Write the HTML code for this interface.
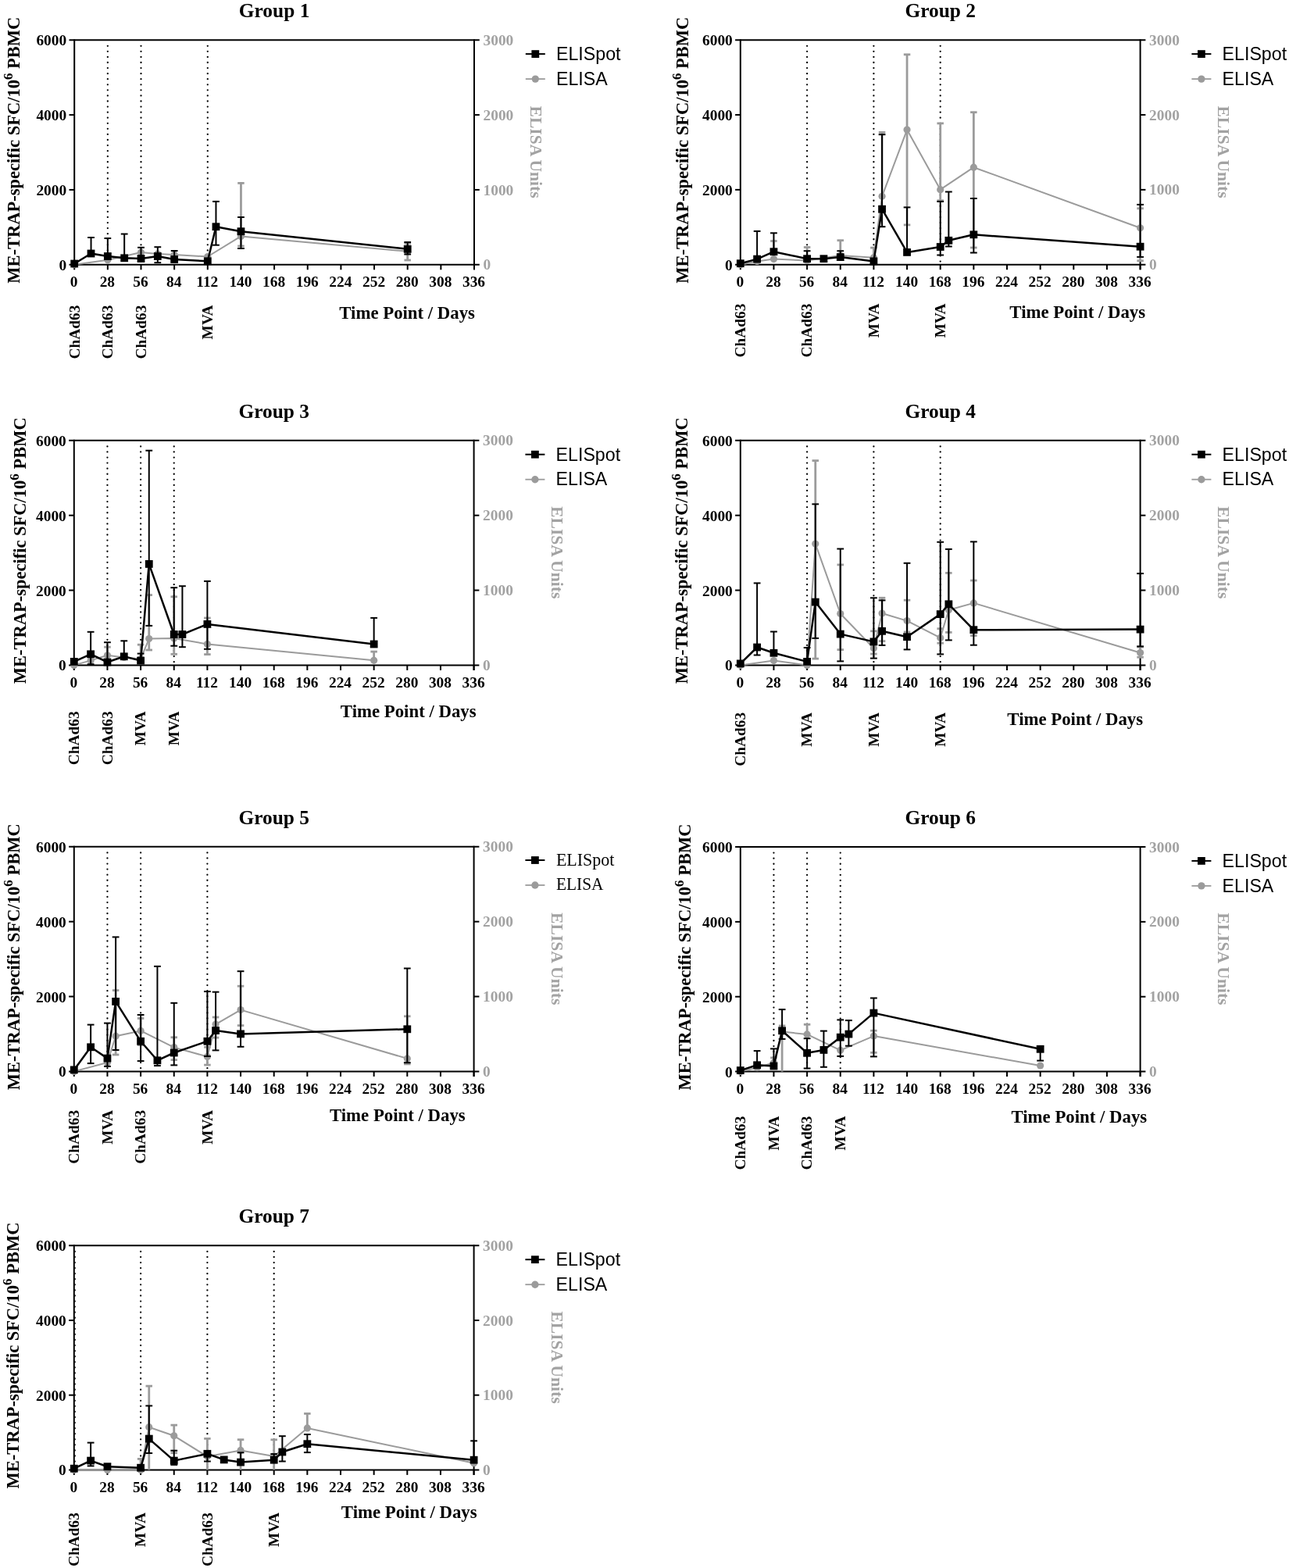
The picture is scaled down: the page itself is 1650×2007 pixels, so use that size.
<!DOCTYPE html>
<html><head><meta charset="utf-8"><title>ELISpot and ELISA responses by group</title>
<style>
html,body{margin:0;padding:0;background:#fff;}
svg{display:block;}
text{font-family:'Liberation Serif', 'Times New Roman', serif;}
.tt{font-weight:bold;font-size:25.4px;}
.tk{font-weight:bold;font-size:19.4px;}
.tkg{font-weight:bold;font-size:19.4px;fill:#a2a2a2;}
.yt{font-weight:bold;font-size:22.5px;}
.yt2{font-weight:bold;font-size:21.6px;fill:#a2a2a2;}
.xt{font-weight:bold;font-size:22.8px;}
.vac{font-weight:bold;font-size:19.4px;}
.lg{font-family:'Liberation Sans', Arial, sans-serif;font-size:23.2px;}
.lgs{font-size:22.4px;}
</style></head><body>
<svg width="1650" height="2007" viewBox="0 0 1650 2007">
<rect width="1650" height="2007" fill="#fff"/>
<g>
<line x1="137.85" y1="58.8" x2="137.85" y2="337.8" stroke="#000" stroke-width="2.3" stroke-linecap="round" stroke-dasharray="0 7.07"/>
<line x1="180.5" y1="58.8" x2="180.5" y2="337.8" stroke="#000" stroke-width="2.3" stroke-linecap="round" stroke-dasharray="0 7.07"/>
<line x1="265.8" y1="58.8" x2="265.8" y2="337.8" stroke="#000" stroke-width="2.3" stroke-linecap="round" stroke-dasharray="0 7.07"/>
<g stroke="#000" stroke-width="2" fill="none">
<path d="M88.5 51.2H613.8"/>
<path d="M88.5 338.8H613.8"/>
<path d="M95.2 50.2V339.8"/>
<path d="M607 50.2V345.3"/>
<path d="M88.5 242.93H95.2"/>
<path d="M607 242.93H613.8"/>
<path d="M88.5 147.07H95.2"/>
<path d="M607 147.07H613.8"/>
<path d="M95.2 338.8V345.3"/>
<path d="M137.85 338.8V345.3"/>
<path d="M180.5 338.8V345.3"/>
<path d="M223.15 338.8V345.3"/>
<path d="M265.8 338.8V345.3"/>
<path d="M308.45 338.8V345.3"/>
<path d="M351.1 338.8V345.3"/>
<path d="M393.75 338.8V345.3"/>
<path d="M436.4 338.8V345.3"/>
<path d="M479.05 338.8V345.3"/>
<path d="M521.7 338.8V345.3"/>
<path d="M564.35 338.8V345.3"/>
<path d="M607 338.8V345.3"/>
</g>
<g stroke="#9b9b9b" stroke-width="2.8" fill="none"><line x1="308.45" y1="302.4" x2="308.45" y2="234.4"/><line x1="304.2" y1="234.4" x2="312.7" y2="234.4"/><line x1="308.45" y1="302.4" x2="308.45" y2="315"/><line x1="304.2" y1="315" x2="312.7" y2="315"/><line x1="521.7" y1="321.8" x2="521.7" y2="311.8"/><line x1="517.45" y1="311.8" x2="525.95" y2="311.8"/><line x1="521.7" y1="321.8" x2="521.7" y2="333"/><line x1="517.45" y1="333" x2="525.95" y2="333"/></g>
<polyline fill="none" stroke="#9b9b9b" stroke-width="2.0" stroke-linejoin="round" points="95.2,338.8 137.85,332.8 180.5,323 201.82,325 223.15,326 265.8,328.5 308.45,302.4 521.7,321.8"/>
<g fill="#9b9b9b"><circle cx="95.2" cy="338.8" r="4.6"/><circle cx="137.85" cy="332.8" r="4.6"/><circle cx="180.5" cy="323" r="4.6"/><circle cx="201.82" cy="325" r="4.6"/><circle cx="223.15" cy="326" r="4.6"/><circle cx="265.8" cy="328.5" r="4.6"/><circle cx="308.45" cy="302.4" r="4.6"/><circle cx="521.7" cy="321.8" r="4.6"/></g>
<g stroke="#000" stroke-width="2.0" fill="none"><line x1="116.53" y1="324.5" x2="116.53" y2="304"/><line x1="112.12" y1="304" x2="120.93" y2="304"/><line x1="137.85" y1="328" x2="137.85" y2="305"/><line x1="133.45" y1="305" x2="142.25" y2="305"/><line x1="159.18" y1="330.3" x2="159.18" y2="299.5"/><line x1="154.78" y1="299.5" x2="163.58" y2="299.5"/><line x1="180.5" y1="331" x2="180.5" y2="316.8"/><line x1="176.1" y1="316.8" x2="184.9" y2="316.8"/><line x1="201.82" y1="328" x2="201.82" y2="316.2"/><line x1="197.42" y1="316.2" x2="206.22" y2="316.2"/><line x1="201.82" y1="328" x2="201.82" y2="336.2"/><line x1="197.42" y1="336.2" x2="206.22" y2="336.2"/><line x1="223.15" y1="332" x2="223.15" y2="321"/><line x1="218.75" y1="321" x2="227.55" y2="321"/><line x1="276.46" y1="290.2" x2="276.46" y2="257.9"/><line x1="272.06" y1="257.9" x2="280.86" y2="257.9"/><line x1="276.46" y1="290.2" x2="276.46" y2="313.7"/><line x1="272.06" y1="313.7" x2="280.86" y2="313.7"/><line x1="308.45" y1="296.2" x2="308.45" y2="278"/><line x1="304.05" y1="278" x2="312.85" y2="278"/><line x1="308.45" y1="296.2" x2="308.45" y2="318"/><line x1="304.05" y1="318" x2="312.85" y2="318"/><line x1="521.7" y1="318.8" x2="521.7" y2="310"/><line x1="517.3" y1="310" x2="526.1" y2="310"/><line x1="521.7" y1="318.8" x2="521.7" y2="325.5"/><line x1="517.3" y1="325.5" x2="526.1" y2="325.5"/></g>
<polyline fill="none" stroke="#000" stroke-width="2.5" stroke-linejoin="round" points="95.2,337.5 116.53,324.5 137.85,328 159.18,330.3 180.5,331 201.82,328 223.15,332 265.8,334.3 276.46,290.2 308.45,296.2 521.7,318.8"/>
<g fill="#000"><rect x="90.3" y="332.6" width="9.8" height="9.8"/><rect x="111.62" y="319.6" width="9.8" height="9.8"/><rect x="132.95" y="323.1" width="9.8" height="9.8"/><rect x="154.28" y="325.4" width="9.8" height="9.8"/><rect x="175.6" y="326.1" width="9.8" height="9.8"/><rect x="196.92" y="323.1" width="9.8" height="9.8"/><rect x="218.25" y="327.1" width="9.8" height="9.8"/><rect x="260.9" y="329.4" width="9.8" height="9.8"/><rect x="271.56" y="285.3" width="9.8" height="9.8"/><rect x="303.55" y="291.3" width="9.8" height="9.8"/><rect x="516.8" y="313.9" width="9.8" height="9.8"/></g>
<text x="351.1" y="21.5" text-anchor="middle" class="tt">Group 1</text>
<text x="85.2" y="345.8" text-anchor="end" class="tk">0</text>
<text x="85.2" y="249.93" text-anchor="end" class="tk">2000</text>
<text x="85.2" y="154.07" text-anchor="end" class="tk">4000</text>
<text x="85.2" y="58.2" text-anchor="end" class="tk">6000</text>
<text x="618.5" y="345.4" class="tkg">0</text>
<text x="618.5" y="249.53" class="tkg">1000</text>
<text x="618.5" y="153.67" class="tkg">2000</text>
<text x="618.5" y="57.8" class="tkg">3000</text>
<text x="94.7" y="367.2" text-anchor="middle" class="tk">0</text>
<text x="137.35" y="367.2" text-anchor="middle" class="tk">28</text>
<text x="180" y="367.2" text-anchor="middle" class="tk">56</text>
<text x="222.65" y="367.2" text-anchor="middle" class="tk">84</text>
<text x="265.3" y="367.2" text-anchor="middle" class="tk">112</text>
<text x="307.95" y="367.2" text-anchor="middle" class="tk">140</text>
<text x="350.6" y="367.2" text-anchor="middle" class="tk">168</text>
<text x="393.25" y="367.2" text-anchor="middle" class="tk">196</text>
<text x="435.9" y="367.2" text-anchor="middle" class="tk">224</text>
<text x="478.55" y="367.2" text-anchor="middle" class="tk">252</text>
<text x="521.2" y="367.2" text-anchor="middle" class="tk">280</text>
<text x="563.85" y="367.2" text-anchor="middle" class="tk">308</text>
<text x="606.5" y="367.2" text-anchor="middle" class="tk">336</text>
<text transform="translate(24.9 192.2) rotate(-90)" text-anchor="middle" class="yt">ME-TRAP-specific SFC/10<tspan dy="-9" font-size="17">6</tspan><tspan dy="9"> PBMC</tspan></text>
<text transform="translate(679 194.6) rotate(90)" text-anchor="middle" class="yt2">ELISA Units</text>
<text x="608" y="408" text-anchor="end" class="xt">Time Point / Days</text>
<text transform="translate(101.5 390.6) rotate(-90)" text-anchor="end" class="vac">ChAd63</text>
<text transform="translate(144.15 390.6) rotate(-90)" text-anchor="end" class="vac">ChAd63</text>
<text transform="translate(186.8 390.6) rotate(-90)" text-anchor="end" class="vac">ChAd63</text>
<text transform="translate(272.1 390.6) rotate(-90)" text-anchor="end" class="vac">MVA</text>
<path d="M672.8 69.1h25" stroke="#000" stroke-width="2"/>
<rect x="680.4" y="64.2" width="9.8" height="9.8"/>
<path d="M672.8 101.1h25" stroke="#9b9b9b" stroke-width="1.8"/>
<circle cx="685.3" cy="101.1" r="4.7" fill="#9b9b9b"/>
<text x="712" y="76.9" class="lg">ELISpot</text>
<text x="712" y="108.7" class="lg">ELISA</text>
</g>
<g>
<line x1="1033.1" y1="58.8" x2="1033.1" y2="337.7" stroke="#000" stroke-width="2.3" stroke-linecap="round" stroke-dasharray="0 7.07"/>
<line x1="1118.4" y1="58.8" x2="1118.4" y2="337.7" stroke="#000" stroke-width="2.3" stroke-linecap="round" stroke-dasharray="0 7.07"/>
<line x1="1203.7" y1="58.8" x2="1203.7" y2="337.7" stroke="#000" stroke-width="2.3" stroke-linecap="round" stroke-dasharray="0 7.07"/>
<g stroke="#000" stroke-width="2" fill="none">
<path d="M941.1 51.2H1466.4"/>
<path d="M941.1 338.7H1466.4"/>
<path d="M947.8 50.2V339.7"/>
<path d="M1459.6 50.2V345.2"/>
<path d="M941.1 242.87H947.8"/>
<path d="M1459.6 242.87H1466.4"/>
<path d="M941.1 147.03H947.8"/>
<path d="M1459.6 147.03H1466.4"/>
<path d="M947.8 338.7V345.2"/>
<path d="M990.45 338.7V345.2"/>
<path d="M1033.1 338.7V345.2"/>
<path d="M1075.75 338.7V345.2"/>
<path d="M1118.4 338.7V345.2"/>
<path d="M1161.05 338.7V345.2"/>
<path d="M1203.7 338.7V345.2"/>
<path d="M1246.35 338.7V345.2"/>
<path d="M1289 338.7V345.2"/>
<path d="M1331.65 338.7V345.2"/>
<path d="M1374.3 338.7V345.2"/>
<path d="M1416.95 338.7V345.2"/>
<path d="M1459.6 338.7V345.2"/>
</g>
<g stroke="#9b9b9b" stroke-width="2.8" fill="none"><line x1="990.45" y1="331.6" x2="990.45" y2="308.5"/><line x1="986.2" y1="308.5" x2="994.7" y2="308.5"/><line x1="1033.1" y1="333.4" x2="1033.1" y2="316.5"/><line x1="1028.85" y1="316.5" x2="1037.35" y2="316.5"/><line x1="1075.75" y1="326.9" x2="1075.75" y2="307.7"/><line x1="1071.5" y1="307.7" x2="1080" y2="307.7"/><line x1="1118.4" y1="329.7" x2="1118.4" y2="317.1"/><line x1="1114.15" y1="317.1" x2="1122.65" y2="317.1"/><line x1="1129.06" y1="251.3" x2="1129.06" y2="169.4"/><line x1="1124.81" y1="169.4" x2="1133.31" y2="169.4"/><line x1="1161.05" y1="166.1" x2="1161.05" y2="69.8"/><line x1="1156.8" y1="69.8" x2="1165.3" y2="69.8"/><line x1="1161.05" y1="166.1" x2="1161.05" y2="287.9"/><line x1="1156.8" y1="287.9" x2="1165.3" y2="287.9"/><line x1="1203.7" y1="242.7" x2="1203.7" y2="157.9"/><line x1="1199.45" y1="157.9" x2="1207.95" y2="157.9"/><line x1="1203.7" y1="242.7" x2="1203.7" y2="256.7"/><line x1="1199.45" y1="256.7" x2="1207.95" y2="256.7"/><line x1="1246.35" y1="214.2" x2="1246.35" y2="143.7"/><line x1="1242.1" y1="143.7" x2="1250.6" y2="143.7"/><line x1="1246.35" y1="214.2" x2="1246.35" y2="317"/><line x1="1242.1" y1="317" x2="1250.6" y2="317"/><line x1="1459.6" y1="291.8" x2="1459.6" y2="266.8"/><line x1="1455.35" y1="266.8" x2="1463.85" y2="266.8"/><line x1="1459.6" y1="291.8" x2="1459.6" y2="333.8"/><line x1="1455.35" y1="333.8" x2="1463.85" y2="333.8"/></g>
<polyline fill="none" stroke="#9b9b9b" stroke-width="2.0" stroke-linejoin="round" points="947.8,338.7 969.12,334.4 990.45,331.6 1033.1,333.4 1075.75,326.9 1118.4,329.7 1129.06,251.3 1161.05,166.1 1203.7,242.7 1246.35,214.2 1459.6,291.8"/>
<g fill="#9b9b9b"><circle cx="947.8" cy="338.7" r="4.6"/><circle cx="969.12" cy="334.4" r="4.6"/><circle cx="990.45" cy="331.6" r="4.6"/><circle cx="1033.1" cy="333.4" r="4.6"/><circle cx="1075.75" cy="326.9" r="4.6"/><circle cx="1118.4" cy="329.7" r="4.6"/><circle cx="1129.06" cy="251.3" r="4.6"/><circle cx="1161.05" cy="166.1" r="4.6"/><circle cx="1203.7" cy="242.7" r="4.6"/><circle cx="1246.35" cy="214.2" r="4.6"/><circle cx="1459.6" cy="291.8" r="4.6"/></g>
<g stroke="#000" stroke-width="2.0" fill="none"><line x1="969.12" y1="331.6" x2="969.12" y2="295.9"/><line x1="964.73" y1="295.9" x2="973.52" y2="295.9"/><line x1="990.45" y1="322.2" x2="990.45" y2="298.3"/><line x1="986.05" y1="298.3" x2="994.85" y2="298.3"/><line x1="1033.1" y1="331.2" x2="1033.1" y2="321.2"/><line x1="1028.7" y1="321.2" x2="1037.5" y2="321.2"/><line x1="1075.75" y1="329.1" x2="1075.75" y2="321.2"/><line x1="1071.35" y1="321.2" x2="1080.15" y2="321.2"/><line x1="1129.06" y1="267.7" x2="1129.06" y2="172.2"/><line x1="1124.66" y1="172.2" x2="1133.46" y2="172.2"/><line x1="1129.06" y1="267.7" x2="1129.06" y2="290.2"/><line x1="1124.66" y1="290.2" x2="1133.46" y2="290.2"/><line x1="1161.05" y1="322.9" x2="1161.05" y2="265.4"/><line x1="1156.65" y1="265.4" x2="1165.45" y2="265.4"/><line x1="1203.7" y1="316" x2="1203.7" y2="257.9"/><line x1="1199.3" y1="257.9" x2="1208.1" y2="257.9"/><line x1="1203.7" y1="316" x2="1203.7" y2="326.5"/><line x1="1199.3" y1="326.5" x2="1208.1" y2="326.5"/><line x1="1214.36" y1="307.8" x2="1214.36" y2="245.5"/><line x1="1209.96" y1="245.5" x2="1218.76" y2="245.5"/><line x1="1214.36" y1="307.8" x2="1214.36" y2="315.5"/><line x1="1209.96" y1="315.5" x2="1218.76" y2="315.5"/><line x1="1246.35" y1="300.3" x2="1246.35" y2="254"/><line x1="1241.95" y1="254" x2="1250.75" y2="254"/><line x1="1246.35" y1="300.3" x2="1246.35" y2="323.5"/><line x1="1241.95" y1="323.5" x2="1250.75" y2="323.5"/><line x1="1459.6" y1="315.7" x2="1459.6" y2="261.9"/><line x1="1455.2" y1="261.9" x2="1464" y2="261.9"/><line x1="1459.6" y1="315.7" x2="1459.6" y2="328.9"/><line x1="1455.2" y1="328.9" x2="1464" y2="328.9"/></g>
<polyline fill="none" stroke="#000" stroke-width="2.5" stroke-linejoin="round" points="947.8,337.2 969.12,331.6 990.45,322.2 1033.1,331.2 1054.42,331.2 1075.75,329.1 1118.4,334.4 1129.06,267.7 1161.05,322.9 1203.7,316 1214.36,307.8 1246.35,300.3 1459.6,315.7"/>
<g fill="#000"><rect x="942.9" y="332.3" width="9.8" height="9.8"/><rect x="964.23" y="326.7" width="9.8" height="9.8"/><rect x="985.55" y="317.3" width="9.8" height="9.8"/><rect x="1028.2" y="326.3" width="9.8" height="9.8"/><rect x="1049.52" y="326.3" width="9.8" height="9.8"/><rect x="1070.85" y="324.2" width="9.8" height="9.8"/><rect x="1113.5" y="329.5" width="9.8" height="9.8"/><rect x="1124.16" y="262.8" width="9.8" height="9.8"/><rect x="1156.15" y="318" width="9.8" height="9.8"/><rect x="1198.8" y="311.1" width="9.8" height="9.8"/><rect x="1209.46" y="302.9" width="9.8" height="9.8"/><rect x="1241.45" y="295.4" width="9.8" height="9.8"/><rect x="1454.7" y="310.8" width="9.8" height="9.8"/></g>
<text x="1203.7" y="22.1" text-anchor="middle" class="tt">Group 2</text>
<text x="937.8" y="345.7" text-anchor="end" class="tk">0</text>
<text x="937.8" y="249.87" text-anchor="end" class="tk">2000</text>
<text x="937.8" y="154.03" text-anchor="end" class="tk">4000</text>
<text x="937.8" y="58.2" text-anchor="end" class="tk">6000</text>
<text x="1471.1" y="345.3" class="tkg">0</text>
<text x="1471.1" y="249.47" class="tkg">1000</text>
<text x="1471.1" y="153.63" class="tkg">2000</text>
<text x="1471.1" y="57.8" class="tkg">3000</text>
<text x="947.3" y="367.1" text-anchor="middle" class="tk">0</text>
<text x="989.95" y="367.1" text-anchor="middle" class="tk">28</text>
<text x="1032.6" y="367.1" text-anchor="middle" class="tk">56</text>
<text x="1075.25" y="367.1" text-anchor="middle" class="tk">84</text>
<text x="1117.9" y="367.1" text-anchor="middle" class="tk">112</text>
<text x="1160.55" y="367.1" text-anchor="middle" class="tk">140</text>
<text x="1203.2" y="367.1" text-anchor="middle" class="tk">168</text>
<text x="1245.85" y="367.1" text-anchor="middle" class="tk">196</text>
<text x="1288.5" y="367.1" text-anchor="middle" class="tk">224</text>
<text x="1331.15" y="367.1" text-anchor="middle" class="tk">252</text>
<text x="1373.8" y="367.1" text-anchor="middle" class="tk">280</text>
<text x="1416.45" y="367.1" text-anchor="middle" class="tk">308</text>
<text x="1459.1" y="367.1" text-anchor="middle" class="tk">336</text>
<text transform="translate(881.4 192.15) rotate(-90)" text-anchor="middle" class="yt">ME-TRAP-specific SFC/10<tspan dy="-9" font-size="17">6</tspan><tspan dy="9"> PBMC</tspan></text>
<text transform="translate(1558.6 194.55) rotate(90)" text-anchor="middle" class="yt2">ELISA Units</text>
<text x="1466.1" y="406.8" text-anchor="end" class="xt">Time Point / Days</text>
<text transform="translate(954.1 388.5) rotate(-90)" text-anchor="end" class="vac">ChAd63</text>
<text transform="translate(1039.4 388.5) rotate(-90)" text-anchor="end" class="vac">ChAd63</text>
<text transform="translate(1124.7 388.5) rotate(-90)" text-anchor="end" class="vac">MVA</text>
<text transform="translate(1210 388.5) rotate(-90)" text-anchor="end" class="vac">MVA</text>
<path d="M1525.4 69.1h25" stroke="#000" stroke-width="2"/>
<rect x="1533" y="64.2" width="9.8" height="9.8"/>
<path d="M1525.4 101.1h25" stroke="#9b9b9b" stroke-width="1.8"/>
<circle cx="1537.9" cy="101.1" r="4.7" fill="#9b9b9b"/>
<text x="1564.6" y="76.9" class="lg">ELISpot</text>
<text x="1564.6" y="108.7" class="lg">ELISA</text>
</g>
<g>
<line x1="137.45" y1="571.4" x2="137.45" y2="850.4" stroke="#000" stroke-width="2.3" stroke-linecap="round" stroke-dasharray="0 7.07"/>
<line x1="180.1" y1="571.4" x2="180.1" y2="850.4" stroke="#000" stroke-width="2.3" stroke-linecap="round" stroke-dasharray="0 7.07"/>
<line x1="222.75" y1="571.4" x2="222.75" y2="850.4" stroke="#000" stroke-width="2.3" stroke-linecap="round" stroke-dasharray="0 7.07"/>
<g stroke="#000" stroke-width="2" fill="none">
<path d="M88.1 563.8H613.4"/>
<path d="M88.1 851.4H613.4"/>
<path d="M94.8 562.8V852.4"/>
<path d="M606.6 562.8V857.9"/>
<path d="M88.1 755.53H94.8"/>
<path d="M606.6 755.53H613.4"/>
<path d="M88.1 659.67H94.8"/>
<path d="M606.6 659.67H613.4"/>
<path d="M94.8 851.4V857.9"/>
<path d="M137.45 851.4V857.9"/>
<path d="M180.1 851.4V857.9"/>
<path d="M222.75 851.4V857.9"/>
<path d="M265.4 851.4V857.9"/>
<path d="M308.05 851.4V857.9"/>
<path d="M350.7 851.4V857.9"/>
<path d="M393.35 851.4V857.9"/>
<path d="M436 851.4V857.9"/>
<path d="M478.65 851.4V857.9"/>
<path d="M521.3 851.4V857.9"/>
<path d="M563.95 851.4V857.9"/>
<path d="M606.6 851.4V857.9"/>
</g>
<g stroke="#9b9b9b" stroke-width="2.8" fill="none"><line x1="137.45" y1="838.8" x2="137.45" y2="828.2"/><line x1="133.2" y1="828.2" x2="141.7" y2="828.2"/><line x1="180.1" y1="843.4" x2="180.1" y2="825.2"/><line x1="175.85" y1="825.2" x2="184.35" y2="825.2"/><line x1="190.76" y1="817.6" x2="190.76" y2="761.6"/><line x1="186.51" y1="761.6" x2="195.01" y2="761.6"/><line x1="190.76" y1="817.6" x2="190.76" y2="832"/><line x1="186.51" y1="832" x2="195.01" y2="832"/><line x1="222.75" y1="816.9" x2="222.75" y2="763.8"/><line x1="218.5" y1="763.8" x2="227" y2="763.8"/><line x1="222.75" y1="816.9" x2="222.75" y2="837.3"/><line x1="218.5" y1="837.3" x2="227" y2="837.3"/><line x1="265.4" y1="824.4" x2="265.4" y2="791"/><line x1="261.15" y1="791" x2="269.65" y2="791"/><line x1="265.4" y1="824.4" x2="265.4" y2="837.6"/><line x1="261.15" y1="837.6" x2="269.65" y2="837.6"/><line x1="478.65" y1="845.3" x2="478.65" y2="834.1"/><line x1="474.4" y1="834.1" x2="482.9" y2="834.1"/></g>
<polyline fill="none" stroke="#9b9b9b" stroke-width="2.0" stroke-linejoin="round" points="94.8,851.4 116.12,845.4 137.45,838.8 158.77,841.4 180.1,843.4 190.76,817.6 222.75,816.9 265.4,824.4 478.65,845.3"/>
<g fill="#9b9b9b"><circle cx="94.8" cy="851.4" r="4.6"/><circle cx="116.12" cy="845.4" r="4.6"/><circle cx="137.45" cy="838.8" r="4.6"/><circle cx="158.77" cy="841.4" r="4.6"/><circle cx="180.1" cy="843.4" r="4.6"/><circle cx="190.76" cy="817.6" r="4.6"/><circle cx="222.75" cy="816.9" r="4.6"/><circle cx="265.4" cy="824.4" r="4.6"/><circle cx="478.65" cy="845.3" r="4.6"/></g>
<g stroke="#000" stroke-width="2.0" fill="none"><line x1="116.12" y1="837.3" x2="116.12" y2="808.8"/><line x1="111.72" y1="808.8" x2="120.53" y2="808.8"/><line x1="116.12" y1="837.3" x2="116.12" y2="850.2"/><line x1="111.72" y1="850.2" x2="120.53" y2="850.2"/><line x1="137.45" y1="847.5" x2="137.45" y2="822.2"/><line x1="133.05" y1="822.2" x2="141.85" y2="822.2"/><line x1="158.77" y1="840.3" x2="158.77" y2="820.3"/><line x1="154.37" y1="820.3" x2="163.17" y2="820.3"/><line x1="180.1" y1="845.6" x2="180.1" y2="836.6"/><line x1="175.7" y1="836.6" x2="184.5" y2="836.6"/><line x1="190.76" y1="721.9" x2="190.76" y2="576.7"/><line x1="186.36" y1="576.7" x2="195.16" y2="576.7"/><line x1="190.76" y1="721.9" x2="190.76" y2="800.9"/><line x1="186.36" y1="800.9" x2="195.16" y2="800.9"/><line x1="222.75" y1="812" x2="222.75" y2="752.2"/><line x1="218.35" y1="752.2" x2="227.15" y2="752.2"/><line x1="222.75" y1="812" x2="222.75" y2="826.7"/><line x1="218.35" y1="826.7" x2="227.15" y2="826.7"/><line x1="233.41" y1="812" x2="233.41" y2="750.2"/><line x1="229.01" y1="750.2" x2="237.81" y2="750.2"/><line x1="233.41" y1="812" x2="233.41" y2="828.2"/><line x1="229.01" y1="828.2" x2="237.81" y2="828.2"/><line x1="265.4" y1="798.9" x2="265.4" y2="743.9"/><line x1="261" y1="743.9" x2="269.8" y2="743.9"/><line x1="265.4" y1="798.9" x2="265.4" y2="830.8"/><line x1="261" y1="830.8" x2="269.8" y2="830.8"/><line x1="478.65" y1="824.5" x2="478.65" y2="790.9"/><line x1="474.25" y1="790.9" x2="483.05" y2="790.9"/></g>
<polyline fill="none" stroke="#000" stroke-width="2.5" stroke-linejoin="round" points="94.8,846.9 116.12,837.3 137.45,847.5 158.77,840.3 180.1,845.6 190.76,721.9 222.75,812 233.41,812 265.4,798.9 478.65,824.5"/>
<g fill="#000"><rect x="89.9" y="842" width="9.8" height="9.8"/><rect x="111.22" y="832.4" width="9.8" height="9.8"/><rect x="132.55" y="842.6" width="9.8" height="9.8"/><rect x="153.87" y="835.4" width="9.8" height="9.8"/><rect x="175.2" y="840.7" width="9.8" height="9.8"/><rect x="185.86" y="717" width="9.8" height="9.8"/><rect x="217.85" y="807.1" width="9.8" height="9.8"/><rect x="228.51" y="807.1" width="9.8" height="9.8"/><rect x="260.5" y="794" width="9.8" height="9.8"/><rect x="473.75" y="819.6" width="9.8" height="9.8"/></g>
<text x="350.7" y="535" text-anchor="middle" class="tt">Group 3</text>
<text x="84.8" y="858.4" text-anchor="end" class="tk">0</text>
<text x="84.8" y="762.53" text-anchor="end" class="tk">2000</text>
<text x="84.8" y="666.67" text-anchor="end" class="tk">4000</text>
<text x="84.8" y="570.8" text-anchor="end" class="tk">6000</text>
<text x="618.1" y="858" class="tkg">0</text>
<text x="618.1" y="762.13" class="tkg">1000</text>
<text x="618.1" y="666.27" class="tkg">2000</text>
<text x="618.1" y="570.4" class="tkg">3000</text>
<text x="94.3" y="879.8" text-anchor="middle" class="tk">0</text>
<text x="136.95" y="879.8" text-anchor="middle" class="tk">28</text>
<text x="179.6" y="879.8" text-anchor="middle" class="tk">56</text>
<text x="222.25" y="879.8" text-anchor="middle" class="tk">84</text>
<text x="264.9" y="879.8" text-anchor="middle" class="tk">112</text>
<text x="307.55" y="879.8" text-anchor="middle" class="tk">140</text>
<text x="350.2" y="879.8" text-anchor="middle" class="tk">168</text>
<text x="392.85" y="879.8" text-anchor="middle" class="tk">196</text>
<text x="435.5" y="879.8" text-anchor="middle" class="tk">224</text>
<text x="478.15" y="879.8" text-anchor="middle" class="tk">252</text>
<text x="520.8" y="879.8" text-anchor="middle" class="tk">280</text>
<text x="563.45" y="879.8" text-anchor="middle" class="tk">308</text>
<text x="606.1" y="879.8" text-anchor="middle" class="tk">336</text>
<text transform="translate(32.9 704.8) rotate(-90)" text-anchor="middle" class="yt">ME-TRAP-specific SFC/10<tspan dy="-9" font-size="17">6</tspan><tspan dy="9"> PBMC</tspan></text>
<text transform="translate(705.6 707.2) rotate(90)" text-anchor="middle" class="yt2">ELISA Units</text>
<text x="609.6" y="917.9" text-anchor="end" class="xt">Time Point / Days</text>
<text transform="translate(101.1 910.4) rotate(-90)" text-anchor="end" class="vac">ChAd63</text>
<text transform="translate(143.75 910.4) rotate(-90)" text-anchor="end" class="vac">ChAd63</text>
<text transform="translate(186.4 910.4) rotate(-90)" text-anchor="end" class="vac">MVA</text>
<text transform="translate(229.05 910.4) rotate(-90)" text-anchor="end" class="vac">MVA</text>
<path d="M672.4 581.7h25" stroke="#000" stroke-width="2"/>
<rect x="680" y="576.8" width="9.8" height="9.8"/>
<path d="M672.4 613.7h25" stroke="#9b9b9b" stroke-width="1.8"/>
<circle cx="684.9" cy="613.7" r="4.7" fill="#9b9b9b"/>
<text x="711.6" y="589.5" class="lg">ELISpot</text>
<text x="711.6" y="621.3" class="lg">ELISA</text>
</g>
<g>
<line x1="1033.1" y1="571.4" x2="1033.1" y2="850.4" stroke="#000" stroke-width="2.3" stroke-linecap="round" stroke-dasharray="0 7.07"/>
<line x1="1118.4" y1="571.4" x2="1118.4" y2="850.4" stroke="#000" stroke-width="2.3" stroke-linecap="round" stroke-dasharray="0 7.07"/>
<line x1="1203.7" y1="571.4" x2="1203.7" y2="850.4" stroke="#000" stroke-width="2.3" stroke-linecap="round" stroke-dasharray="0 7.07"/>
<g stroke="#000" stroke-width="2" fill="none">
<path d="M941.1 563.8H1466.4"/>
<path d="M941.1 851.4H1466.4"/>
<path d="M947.8 562.8V852.4"/>
<path d="M1459.6 562.8V857.9"/>
<path d="M941.1 755.53H947.8"/>
<path d="M1459.6 755.53H1466.4"/>
<path d="M941.1 659.67H947.8"/>
<path d="M1459.6 659.67H1466.4"/>
<path d="M947.8 851.4V857.9"/>
<path d="M990.45 851.4V857.9"/>
<path d="M1033.1 851.4V857.9"/>
<path d="M1075.75 851.4V857.9"/>
<path d="M1118.4 851.4V857.9"/>
<path d="M1161.05 851.4V857.9"/>
<path d="M1203.7 851.4V857.9"/>
<path d="M1246.35 851.4V857.9"/>
<path d="M1289 851.4V857.9"/>
<path d="M1331.65 851.4V857.9"/>
<path d="M1374.3 851.4V857.9"/>
<path d="M1416.95 851.4V857.9"/>
<path d="M1459.6 851.4V857.9"/>
</g>
<g stroke="#9b9b9b" stroke-width="2.8" fill="none"><line x1="1043.76" y1="696.1" x2="1043.76" y2="589.6"/><line x1="1039.51" y1="589.6" x2="1048.01" y2="589.6"/><line x1="1043.76" y1="696.1" x2="1043.76" y2="843.1"/><line x1="1039.51" y1="843.1" x2="1048.01" y2="843.1"/><line x1="1075.75" y1="785.5" x2="1075.75" y2="722.9"/><line x1="1071.5" y1="722.9" x2="1080" y2="722.9"/><line x1="1075.75" y1="785.5" x2="1075.75" y2="831.6"/><line x1="1071.5" y1="831.6" x2="1080" y2="831.6"/><line x1="1118.4" y1="829.7" x2="1118.4" y2="807.8"/><line x1="1114.15" y1="807.8" x2="1122.65" y2="807.8"/><line x1="1118.4" y1="829.7" x2="1118.4" y2="837"/><line x1="1114.15" y1="837" x2="1122.65" y2="837"/><line x1="1129.06" y1="785" x2="1129.06" y2="765.3"/><line x1="1124.81" y1="765.3" x2="1133.31" y2="765.3"/><line x1="1129.06" y1="785" x2="1129.06" y2="820.6"/><line x1="1124.81" y1="820.6" x2="1133.31" y2="820.6"/><line x1="1161.05" y1="794.6" x2="1161.05" y2="768.2"/><line x1="1156.8" y1="768.2" x2="1165.3" y2="768.2"/><line x1="1161.05" y1="794.6" x2="1161.05" y2="808.9"/><line x1="1156.8" y1="808.9" x2="1165.3" y2="808.9"/><line x1="1203.7" y1="816.4" x2="1203.7" y2="804.7"/><line x1="1199.45" y1="804.7" x2="1207.95" y2="804.7"/><line x1="1203.7" y1="816.4" x2="1203.7" y2="823.2"/><line x1="1199.45" y1="823.2" x2="1207.95" y2="823.2"/><line x1="1214.36" y1="780.8" x2="1214.36" y2="733.4"/><line x1="1210.11" y1="733.4" x2="1218.61" y2="733.4"/><line x1="1214.36" y1="780.8" x2="1214.36" y2="809.4"/><line x1="1210.11" y1="809.4" x2="1218.61" y2="809.4"/><line x1="1246.35" y1="771.9" x2="1246.35" y2="743"/><line x1="1242.1" y1="743" x2="1250.6" y2="743"/><line x1="1246.35" y1="771.9" x2="1246.35" y2="813.6"/><line x1="1242.1" y1="813.6" x2="1250.6" y2="813.6"/><line x1="1459.6" y1="835.5" x2="1459.6" y2="828.1"/><line x1="1455.35" y1="828.1" x2="1463.85" y2="828.1"/><line x1="1459.6" y1="835.5" x2="1459.6" y2="841.2"/><line x1="1455.35" y1="841.2" x2="1463.85" y2="841.2"/></g>
<polyline fill="none" stroke="#9b9b9b" stroke-width="2.0" stroke-linejoin="round" points="947.8,851.4 990.45,845.6 1033.1,851.4 1043.76,696.1 1075.75,785.5 1118.4,829.7 1129.06,785 1161.05,794.6 1203.7,816.4 1214.36,780.8 1246.35,771.9 1459.6,835.5"/>
<g fill="#9b9b9b"><circle cx="947.8" cy="851.4" r="4.6"/><circle cx="990.45" cy="845.6" r="4.6"/><circle cx="1033.1" cy="851.4" r="4.6"/><circle cx="1043.76" cy="696.1" r="4.6"/><circle cx="1075.75" cy="785.5" r="4.6"/><circle cx="1118.4" cy="829.7" r="4.6"/><circle cx="1129.06" cy="785" r="4.6"/><circle cx="1161.05" cy="794.6" r="4.6"/><circle cx="1203.7" cy="816.4" r="4.6"/><circle cx="1214.36" cy="780.8" r="4.6"/><circle cx="1246.35" cy="771.9" r="4.6"/><circle cx="1459.6" cy="835.5" r="4.6"/></g>
<g stroke="#000" stroke-width="2.0" fill="none"><line x1="969.12" y1="828.5" x2="969.12" y2="746.4"/><line x1="964.73" y1="746.4" x2="973.52" y2="746.4"/><line x1="969.12" y1="828.5" x2="969.12" y2="838.5"/><line x1="964.73" y1="838.5" x2="973.52" y2="838.5"/><line x1="990.45" y1="835.8" x2="990.45" y2="808.5"/><line x1="986.05" y1="808.5" x2="994.85" y2="808.5"/><line x1="1033.1" y1="846.9" x2="1033.1" y2="829"/><line x1="1028.7" y1="829" x2="1037.5" y2="829"/><line x1="1043.76" y1="770.6" x2="1043.76" y2="645.3"/><line x1="1039.36" y1="645.3" x2="1048.16" y2="645.3"/><line x1="1043.76" y1="770.6" x2="1043.76" y2="816.9"/><line x1="1039.36" y1="816.9" x2="1048.16" y2="816.9"/><line x1="1075.75" y1="811.6" x2="1075.75" y2="702.5"/><line x1="1071.35" y1="702.5" x2="1080.15" y2="702.5"/><line x1="1075.75" y1="811.6" x2="1075.75" y2="846.4"/><line x1="1071.35" y1="846.4" x2="1080.15" y2="846.4"/><line x1="1118.4" y1="821.4" x2="1118.4" y2="765.3"/><line x1="1114" y1="765.3" x2="1122.8" y2="765.3"/><line x1="1118.4" y1="821.4" x2="1118.4" y2="842.6"/><line x1="1114" y1="842.6" x2="1122.8" y2="842.6"/><line x1="1129.06" y1="807.8" x2="1129.06" y2="768.4"/><line x1="1124.66" y1="768.4" x2="1133.46" y2="768.4"/><line x1="1129.06" y1="807.8" x2="1129.06" y2="825.9"/><line x1="1124.66" y1="825.9" x2="1133.46" y2="825.9"/><line x1="1161.05" y1="815.2" x2="1161.05" y2="720.8"/><line x1="1156.65" y1="720.8" x2="1165.45" y2="720.8"/><line x1="1161.05" y1="815.2" x2="1161.05" y2="831.4"/><line x1="1156.65" y1="831.4" x2="1165.45" y2="831.4"/><line x1="1203.7" y1="786.1" x2="1203.7" y2="693.8"/><line x1="1199.3" y1="693.8" x2="1208.1" y2="693.8"/><line x1="1203.7" y1="786.1" x2="1203.7" y2="837.4"/><line x1="1199.3" y1="837.4" x2="1208.1" y2="837.4"/><line x1="1214.36" y1="773.3" x2="1214.36" y2="702.9"/><line x1="1209.96" y1="702.9" x2="1218.76" y2="702.9"/><line x1="1214.36" y1="773.3" x2="1214.36" y2="819.4"/><line x1="1209.96" y1="819.4" x2="1218.76" y2="819.4"/><line x1="1246.35" y1="806.2" x2="1246.35" y2="693.4"/><line x1="1241.95" y1="693.4" x2="1250.75" y2="693.4"/><line x1="1246.35" y1="806.2" x2="1246.35" y2="825.7"/><line x1="1241.95" y1="825.7" x2="1250.75" y2="825.7"/><line x1="1459.6" y1="805.6" x2="1459.6" y2="734.1"/><line x1="1455.2" y1="734.1" x2="1464" y2="734.1"/><line x1="1459.6" y1="805.6" x2="1459.6" y2="827.4"/><line x1="1455.2" y1="827.4" x2="1464" y2="827.4"/></g>
<polyline fill="none" stroke="#000" stroke-width="2.5" stroke-linejoin="round" points="947.8,849.4 969.12,828.5 990.45,835.8 1033.1,846.9 1043.76,770.6 1075.75,811.6 1118.4,821.4 1129.06,807.8 1161.05,815.2 1203.7,786.1 1214.36,773.3 1246.35,806.2 1459.6,805.6"/>
<g fill="#000"><rect x="942.9" y="844.5" width="9.8" height="9.8"/><rect x="964.23" y="823.6" width="9.8" height="9.8"/><rect x="985.55" y="830.9" width="9.8" height="9.8"/><rect x="1028.2" y="842" width="9.8" height="9.8"/><rect x="1038.86" y="765.7" width="9.8" height="9.8"/><rect x="1070.85" y="806.7" width="9.8" height="9.8"/><rect x="1113.5" y="816.5" width="9.8" height="9.8"/><rect x="1124.16" y="802.9" width="9.8" height="9.8"/><rect x="1156.15" y="810.3" width="9.8" height="9.8"/><rect x="1198.8" y="781.2" width="9.8" height="9.8"/><rect x="1209.46" y="768.4" width="9.8" height="9.8"/><rect x="1241.45" y="801.3" width="9.8" height="9.8"/><rect x="1454.7" y="800.7" width="9.8" height="9.8"/></g>
<text x="1203.7" y="535" text-anchor="middle" class="tt">Group 4</text>
<text x="937.8" y="858.4" text-anchor="end" class="tk">0</text>
<text x="937.8" y="762.53" text-anchor="end" class="tk">2000</text>
<text x="937.8" y="666.67" text-anchor="end" class="tk">4000</text>
<text x="937.8" y="570.8" text-anchor="end" class="tk">6000</text>
<text x="1471.1" y="858" class="tkg">0</text>
<text x="1471.1" y="762.13" class="tkg">1000</text>
<text x="1471.1" y="666.27" class="tkg">2000</text>
<text x="1471.1" y="570.4" class="tkg">3000</text>
<text x="947.3" y="879.8" text-anchor="middle" class="tk">0</text>
<text x="989.95" y="879.8" text-anchor="middle" class="tk">28</text>
<text x="1032.6" y="879.8" text-anchor="middle" class="tk">56</text>
<text x="1075.25" y="879.8" text-anchor="middle" class="tk">84</text>
<text x="1117.9" y="879.8" text-anchor="middle" class="tk">112</text>
<text x="1160.55" y="879.8" text-anchor="middle" class="tk">140</text>
<text x="1203.2" y="879.8" text-anchor="middle" class="tk">168</text>
<text x="1245.85" y="879.8" text-anchor="middle" class="tk">196</text>
<text x="1288.5" y="879.8" text-anchor="middle" class="tk">224</text>
<text x="1331.15" y="879.8" text-anchor="middle" class="tk">252</text>
<text x="1373.8" y="879.8" text-anchor="middle" class="tk">280</text>
<text x="1416.45" y="879.8" text-anchor="middle" class="tk">308</text>
<text x="1459.1" y="879.8" text-anchor="middle" class="tk">336</text>
<text transform="translate(880.4 704.8) rotate(-90)" text-anchor="middle" class="yt">ME-TRAP-specific SFC/10<tspan dy="-9" font-size="17">6</tspan><tspan dy="9"> PBMC</tspan></text>
<text transform="translate(1558.6 707.2) rotate(90)" text-anchor="middle" class="yt2">ELISA Units</text>
<text x="1463.1" y="927.6" text-anchor="end" class="xt">Time Point / Days</text>
<text transform="translate(954.1 911.9) rotate(-90)" text-anchor="end" class="vac">ChAd63</text>
<text transform="translate(1039.4 911.9) rotate(-90)" text-anchor="end" class="vac">MVA</text>
<text transform="translate(1124.7 911.9) rotate(-90)" text-anchor="end" class="vac">MVA</text>
<text transform="translate(1210 911.9) rotate(-90)" text-anchor="end" class="vac">MVA</text>
<path d="M1525.4 581.7h25" stroke="#000" stroke-width="2"/>
<rect x="1533" y="576.8" width="9.8" height="9.8"/>
<path d="M1525.4 613.7h25" stroke="#9b9b9b" stroke-width="1.8"/>
<circle cx="1537.9" cy="613.7" r="4.7" fill="#9b9b9b"/>
<text x="1564.6" y="589.5" class="lg">ELISpot</text>
<text x="1564.6" y="621.3" class="lg">ELISA</text>
</g>
<g>
<line x1="137.45" y1="1091.4" x2="137.45" y2="1370.4" stroke="#000" stroke-width="2.3" stroke-linecap="round" stroke-dasharray="0 7.07"/>
<line x1="180.1" y1="1091.4" x2="180.1" y2="1370.4" stroke="#000" stroke-width="2.3" stroke-linecap="round" stroke-dasharray="0 7.07"/>
<line x1="265.4" y1="1091.4" x2="265.4" y2="1370.4" stroke="#000" stroke-width="2.3" stroke-linecap="round" stroke-dasharray="0 7.07"/>
<g stroke="#000" stroke-width="2" fill="none">
<path d="M88.1 1083.8H613.4"/>
<path d="M88.1 1371.4H613.4"/>
<path d="M94.8 1082.8V1372.4"/>
<path d="M606.6 1082.8V1377.9"/>
<path d="M88.1 1275.53H94.8"/>
<path d="M606.6 1275.53H613.4"/>
<path d="M88.1 1179.67H94.8"/>
<path d="M606.6 1179.67H613.4"/>
<path d="M94.8 1371.4V1377.9"/>
<path d="M137.45 1371.4V1377.9"/>
<path d="M180.1 1371.4V1377.9"/>
<path d="M222.75 1371.4V1377.9"/>
<path d="M265.4 1371.4V1377.9"/>
<path d="M308.05 1371.4V1377.9"/>
<path d="M350.7 1371.4V1377.9"/>
<path d="M393.35 1371.4V1377.9"/>
<path d="M436 1371.4V1377.9"/>
<path d="M478.65 1371.4V1377.9"/>
<path d="M521.3 1371.4V1377.9"/>
<path d="M563.95 1371.4V1377.9"/>
<path d="M606.6 1371.4V1377.9"/>
</g>
<g stroke="#9b9b9b" stroke-width="2.8" fill="none"><line x1="148.11" y1="1326.2" x2="148.11" y2="1267.6"/><line x1="143.86" y1="1267.6" x2="152.36" y2="1267.6"/><line x1="148.11" y1="1326.2" x2="148.11" y2="1350"/><line x1="143.86" y1="1350" x2="152.36" y2="1350"/><line x1="180.1" y1="1319.4" x2="180.1" y2="1303.5"/><line x1="175.85" y1="1303.5" x2="184.35" y2="1303.5"/><line x1="180.1" y1="1319.4" x2="180.1" y2="1337.6"/><line x1="175.85" y1="1337.6" x2="184.35" y2="1337.6"/><line x1="222.75" y1="1340.6" x2="222.75" y2="1327.8"/><line x1="218.5" y1="1327.8" x2="227" y2="1327.8"/><line x1="222.75" y1="1340.6" x2="222.75" y2="1356.6"/><line x1="218.5" y1="1356.6" x2="227" y2="1356.6"/><line x1="265.4" y1="1352.5" x2="265.4" y2="1340.3"/><line x1="261.15" y1="1340.3" x2="269.65" y2="1340.3"/><line x1="265.4" y1="1352.5" x2="265.4" y2="1363.1"/><line x1="261.15" y1="1363.1" x2="269.65" y2="1363.1"/><line x1="276.06" y1="1311.1" x2="276.06" y2="1302"/><line x1="271.81" y1="1302" x2="280.31" y2="1302"/><line x1="276.06" y1="1311.1" x2="276.06" y2="1328.2"/><line x1="271.81" y1="1328.2" x2="280.31" y2="1328.2"/><line x1="308.05" y1="1292.6" x2="308.05" y2="1262.2"/><line x1="303.8" y1="1262.2" x2="312.3" y2="1262.2"/><line x1="308.05" y1="1292.6" x2="308.05" y2="1312.6"/><line x1="303.8" y1="1312.6" x2="312.3" y2="1312.6"/><line x1="521.3" y1="1354.9" x2="521.3" y2="1300.8"/><line x1="517.05" y1="1300.8" x2="525.55" y2="1300.8"/><line x1="521.3" y1="1354.9" x2="521.3" y2="1361.9"/><line x1="517.05" y1="1361.9" x2="525.55" y2="1361.9"/></g>
<polyline fill="none" stroke="#9b9b9b" stroke-width="2.0" stroke-linejoin="round" points="94.8,1371.4 137.45,1360 148.11,1326.2 180.1,1319.4 222.75,1340.6 265.4,1352.5 276.06,1311.1 308.05,1292.6 521.3,1354.9"/>
<g fill="#9b9b9b"><circle cx="94.8" cy="1371.4" r="4.6"/><circle cx="137.45" cy="1360" r="4.6"/><circle cx="148.11" cy="1326.2" r="4.6"/><circle cx="180.1" cy="1319.4" r="4.6"/><circle cx="222.75" cy="1340.6" r="4.6"/><circle cx="265.4" cy="1352.5" r="4.6"/><circle cx="276.06" cy="1311.1" r="4.6"/><circle cx="308.05" cy="1292.6" r="4.6"/><circle cx="521.3" cy="1354.9" r="4.6"/></g>
<g stroke="#000" stroke-width="2.0" fill="none"><line x1="116.12" y1="1340.3" x2="116.12" y2="1311.6"/><line x1="111.72" y1="1311.6" x2="120.53" y2="1311.6"/><line x1="116.12" y1="1340.3" x2="116.12" y2="1361.1"/><line x1="111.72" y1="1361.1" x2="120.53" y2="1361.1"/><line x1="137.45" y1="1354.6" x2="137.45" y2="1309.6"/><line x1="133.05" y1="1309.6" x2="141.85" y2="1309.6"/><line x1="137.45" y1="1354.6" x2="137.45" y2="1364.9"/><line x1="133.05" y1="1364.9" x2="141.85" y2="1364.9"/><line x1="148.11" y1="1281.9" x2="148.11" y2="1199.4"/><line x1="143.71" y1="1199.4" x2="152.51" y2="1199.4"/><line x1="148.11" y1="1281.9" x2="148.11" y2="1344"/><line x1="143.71" y1="1344" x2="152.51" y2="1344"/><line x1="180.1" y1="1332.8" x2="180.1" y2="1299"/><line x1="175.7" y1="1299" x2="184.5" y2="1299"/><line x1="180.1" y1="1332.8" x2="180.1" y2="1358.1"/><line x1="175.7" y1="1358.1" x2="184.5" y2="1358.1"/><line x1="201.43" y1="1357.3" x2="201.43" y2="1236.9"/><line x1="197.03" y1="1236.9" x2="205.83" y2="1236.9"/><line x1="201.43" y1="1357.3" x2="201.43" y2="1364.1"/><line x1="197.03" y1="1364.1" x2="205.83" y2="1364.1"/><line x1="222.75" y1="1347.5" x2="222.75" y2="1283.8"/><line x1="218.35" y1="1283.8" x2="227.15" y2="1283.8"/><line x1="222.75" y1="1347.5" x2="222.75" y2="1363.4"/><line x1="218.35" y1="1363.4" x2="227.15" y2="1363.4"/><line x1="265.4" y1="1332.8" x2="265.4" y2="1269.1"/><line x1="261" y1="1269.1" x2="269.8" y2="1269.1"/><line x1="265.4" y1="1332.8" x2="265.4" y2="1352"/><line x1="261" y1="1352" x2="269.8" y2="1352"/><line x1="276.06" y1="1319.1" x2="276.06" y2="1269.7"/><line x1="271.66" y1="1269.7" x2="280.46" y2="1269.7"/><line x1="276.06" y1="1319.1" x2="276.06" y2="1344.4"/><line x1="271.66" y1="1344.4" x2="280.46" y2="1344.4"/><line x1="308.05" y1="1323.4" x2="308.05" y2="1243.2"/><line x1="303.65" y1="1243.2" x2="312.45" y2="1243.2"/><line x1="308.05" y1="1323.4" x2="308.05" y2="1339.8"/><line x1="303.65" y1="1339.8" x2="312.45" y2="1339.8"/><line x1="521.3" y1="1317.3" x2="521.3" y2="1239.5"/><line x1="516.9" y1="1239.5" x2="525.7" y2="1239.5"/><line x1="521.3" y1="1317.3" x2="521.3" y2="1360.2"/><line x1="516.9" y1="1360.2" x2="525.7" y2="1360.2"/></g>
<polyline fill="none" stroke="#000" stroke-width="2.5" stroke-linejoin="round" points="94.8,1369.4 116.12,1340.3 137.45,1354.6 148.11,1281.9 180.1,1332.8 201.43,1357.3 222.75,1347.5 265.4,1332.8 276.06,1319.1 308.05,1323.4 521.3,1317.3"/>
<g fill="#000"><rect x="89.9" y="1364.5" width="9.8" height="9.8"/><rect x="111.22" y="1335.4" width="9.8" height="9.8"/><rect x="132.55" y="1349.7" width="9.8" height="9.8"/><rect x="143.21" y="1277" width="9.8" height="9.8"/><rect x="175.2" y="1327.9" width="9.8" height="9.8"/><rect x="196.53" y="1352.4" width="9.8" height="9.8"/><rect x="217.85" y="1342.6" width="9.8" height="9.8"/><rect x="260.5" y="1327.9" width="9.8" height="9.8"/><rect x="271.16" y="1314.2" width="9.8" height="9.8"/><rect x="303.15" y="1318.5" width="9.8" height="9.8"/><rect x="516.4" y="1312.4" width="9.8" height="9.8"/></g>
<text x="350.7" y="1055" text-anchor="middle" class="tt">Group 5</text>
<text x="84.8" y="1378.4" text-anchor="end" class="tk">0</text>
<text x="84.8" y="1282.53" text-anchor="end" class="tk">2000</text>
<text x="84.8" y="1186.67" text-anchor="end" class="tk">4000</text>
<text x="84.8" y="1090.8" text-anchor="end" class="tk">6000</text>
<text x="618.1" y="1378" class="tkg">0</text>
<text x="618.1" y="1282.13" class="tkg">1000</text>
<text x="618.1" y="1186.27" class="tkg">2000</text>
<text x="618.1" y="1090.4" class="tkg">3000</text>
<text x="94.3" y="1399.8" text-anchor="middle" class="tk">0</text>
<text x="136.95" y="1399.8" text-anchor="middle" class="tk">28</text>
<text x="179.6" y="1399.8" text-anchor="middle" class="tk">56</text>
<text x="222.25" y="1399.8" text-anchor="middle" class="tk">84</text>
<text x="264.9" y="1399.8" text-anchor="middle" class="tk">112</text>
<text x="307.55" y="1399.8" text-anchor="middle" class="tk">140</text>
<text x="350.2" y="1399.8" text-anchor="middle" class="tk">168</text>
<text x="392.85" y="1399.8" text-anchor="middle" class="tk">196</text>
<text x="435.5" y="1399.8" text-anchor="middle" class="tk">224</text>
<text x="478.15" y="1399.8" text-anchor="middle" class="tk">252</text>
<text x="520.8" y="1399.8" text-anchor="middle" class="tk">280</text>
<text x="563.45" y="1399.8" text-anchor="middle" class="tk">308</text>
<text x="606.1" y="1399.8" text-anchor="middle" class="tk">336</text>
<text transform="translate(24.65 1224.8) rotate(-90)" text-anchor="middle" class="yt">ME-TRAP-specific SFC/10<tspan dy="-9" font-size="17">6</tspan><tspan dy="9"> PBMC</tspan></text>
<text transform="translate(705.6 1227.2) rotate(90)" text-anchor="middle" class="yt2">ELISA Units</text>
<text x="595.7" y="1435.1" text-anchor="end" class="xt">Time Point / Days</text>
<text transform="translate(101.1 1420.9) rotate(-90)" text-anchor="end" class="vac">ChAd63</text>
<text transform="translate(143.75 1420.9) rotate(-90)" text-anchor="end" class="vac">MVA</text>
<text transform="translate(186.4 1420.9) rotate(-90)" text-anchor="end" class="vac">ChAd63</text>
<text transform="translate(271.7 1420.9) rotate(-90)" text-anchor="end" class="vac">MVA</text>
<path d="M672.4 1101h25" stroke="#000" stroke-width="2"/>
<rect x="680" y="1096.1" width="9.8" height="9.8"/>
<path d="M672.4 1133h25" stroke="#9b9b9b" stroke-width="1.8"/>
<circle cx="684.9" cy="1133" r="4.7" fill="#9b9b9b"/>
<text x="711.9" y="1107.5" class="lgs" textLength="74.6" lengthAdjust="spacingAndGlyphs">ELISpot</text>
<text x="711.9" y="1139" class="lgs" textLength="60.6" lengthAdjust="spacingAndGlyphs">ELISA</text>
</g>
<g>
<line x1="990.45" y1="1091.6" x2="990.45" y2="1370.6" stroke="#000" stroke-width="2.3" stroke-linecap="round" stroke-dasharray="0 7.07"/>
<line x1="1033.1" y1="1091.6" x2="1033.1" y2="1370.6" stroke="#000" stroke-width="2.3" stroke-linecap="round" stroke-dasharray="0 7.07"/>
<line x1="1075.75" y1="1091.6" x2="1075.75" y2="1370.6" stroke="#000" stroke-width="2.3" stroke-linecap="round" stroke-dasharray="0 7.07"/>
<g stroke="#000" stroke-width="2" fill="none">
<path d="M941.1 1084H1466.4"/>
<path d="M941.1 1371.6H1466.4"/>
<path d="M947.8 1083V1372.6"/>
<path d="M1459.6 1083V1378.1"/>
<path d="M941.1 1275.73H947.8"/>
<path d="M1459.6 1275.73H1466.4"/>
<path d="M941.1 1179.87H947.8"/>
<path d="M1459.6 1179.87H1466.4"/>
<path d="M947.8 1371.6V1378.1"/>
<path d="M990.45 1371.6V1378.1"/>
<path d="M1033.1 1371.6V1378.1"/>
<path d="M1075.75 1371.6V1378.1"/>
<path d="M1118.4 1371.6V1378.1"/>
<path d="M1161.05 1371.6V1378.1"/>
<path d="M1203.7 1371.6V1378.1"/>
<path d="M1246.35 1371.6V1378.1"/>
<path d="M1289 1371.6V1378.1"/>
<path d="M1331.65 1371.6V1378.1"/>
<path d="M1374.3 1371.6V1378.1"/>
<path d="M1416.95 1371.6V1378.1"/>
<path d="M1459.6 1371.6V1378.1"/>
</g>
<g stroke="#9b9b9b" stroke-width="2.8" fill="none"><line x1="990.45" y1="1360.2" x2="990.45" y2="1353.9"/><line x1="986.2" y1="1353.9" x2="994.7" y2="1353.9"/><line x1="1001.11" y1="1320.6" x2="1001.11" y2="1313"/><line x1="996.86" y1="1313" x2="1005.36" y2="1313"/><line x1="1001.11" y1="1320.6" x2="1001.11" y2="1371.6"/><line x1="1033.1" y1="1323.9" x2="1033.1" y2="1311.3"/><line x1="1028.85" y1="1311.3" x2="1037.35" y2="1311.3"/><line x1="1118.4" y1="1326.1" x2="1118.4" y2="1319.2"/><line x1="1114.15" y1="1319.2" x2="1122.65" y2="1319.2"/><line x1="1118.4" y1="1326.1" x2="1118.4" y2="1347.3"/><line x1="1114.15" y1="1347.3" x2="1122.65" y2="1347.3"/></g>
<polyline fill="none" stroke="#9b9b9b" stroke-width="2.0" stroke-linejoin="round" points="947.8,1371.6 969.12,1366.6 990.45,1360.2 1001.11,1320.6 1033.1,1323.9 1075.75,1344.3 1118.4,1326.1 1331.65,1364"/>
<g fill="#9b9b9b"><circle cx="947.8" cy="1371.6" r="4.6"/><circle cx="969.12" cy="1366.6" r="4.6"/><circle cx="990.45" cy="1360.2" r="4.6"/><circle cx="1001.11" cy="1320.6" r="4.6"/><circle cx="1033.1" cy="1323.9" r="4.6"/><circle cx="1075.75" cy="1344.3" r="4.6"/><circle cx="1118.4" cy="1326.1" r="4.6"/><circle cx="1331.65" cy="1364" r="4.6"/></g>
<g stroke="#000" stroke-width="2.0" fill="none"><line x1="969.12" y1="1363.3" x2="969.12" y2="1345.1"/><line x1="964.73" y1="1345.1" x2="973.52" y2="1345.1"/><line x1="990.45" y1="1364.5" x2="990.45" y2="1342.4"/><line x1="986.05" y1="1342.4" x2="994.85" y2="1342.4"/><line x1="1001.11" y1="1319.3" x2="1001.11" y2="1292.1"/><line x1="996.71" y1="1292.1" x2="1005.51" y2="1292.1"/><line x1="1001.11" y1="1319.3" x2="1001.11" y2="1329.9"/><line x1="996.71" y1="1329.9" x2="1005.51" y2="1329.9"/><line x1="1033.1" y1="1347.8" x2="1033.1" y2="1329.2"/><line x1="1028.7" y1="1329.2" x2="1037.5" y2="1329.2"/><line x1="1033.1" y1="1347.8" x2="1033.1" y2="1367.5"/><line x1="1028.7" y1="1367.5" x2="1037.5" y2="1367.5"/><line x1="1054.42" y1="1343.9" x2="1054.42" y2="1319.6"/><line x1="1050.02" y1="1319.6" x2="1058.83" y2="1319.6"/><line x1="1054.42" y1="1343.9" x2="1054.42" y2="1365.8"/><line x1="1050.02" y1="1365.8" x2="1058.83" y2="1365.8"/><line x1="1075.75" y1="1327.7" x2="1075.75" y2="1305.4"/><line x1="1071.35" y1="1305.4" x2="1080.15" y2="1305.4"/><line x1="1075.75" y1="1327.7" x2="1075.75" y2="1351.9"/><line x1="1071.35" y1="1351.9" x2="1080.15" y2="1351.9"/><line x1="1086.41" y1="1323.6" x2="1086.41" y2="1306.1"/><line x1="1082.01" y1="1306.1" x2="1090.81" y2="1306.1"/><line x1="1086.41" y1="1323.6" x2="1086.41" y2="1338.7"/><line x1="1082.01" y1="1338.7" x2="1090.81" y2="1338.7"/><line x1="1118.4" y1="1296.6" x2="1118.4" y2="1277.5"/><line x1="1114" y1="1277.5" x2="1122.8" y2="1277.5"/><line x1="1118.4" y1="1296.6" x2="1118.4" y2="1352.4"/><line x1="1114" y1="1352.4" x2="1122.8" y2="1352.4"/><line x1="1331.65" y1="1342.8" x2="1331.65" y2="1357.6"/><line x1="1327.25" y1="1357.6" x2="1336.05" y2="1357.6"/></g>
<polyline fill="none" stroke="#000" stroke-width="2.5" stroke-linejoin="round" points="947.8,1370.1 969.12,1363.3 990.45,1364.5 1001.11,1319.3 1033.1,1347.8 1054.42,1343.9 1075.75,1327.7 1086.41,1323.6 1118.4,1296.6 1331.65,1342.8"/>
<g fill="#000"><rect x="942.9" y="1365.2" width="9.8" height="9.8"/><rect x="964.23" y="1358.4" width="9.8" height="9.8"/><rect x="985.55" y="1359.6" width="9.8" height="9.8"/><rect x="996.21" y="1314.4" width="9.8" height="9.8"/><rect x="1028.2" y="1342.9" width="9.8" height="9.8"/><rect x="1049.52" y="1339" width="9.8" height="9.8"/><rect x="1070.85" y="1322.8" width="9.8" height="9.8"/><rect x="1081.51" y="1318.7" width="9.8" height="9.8"/><rect x="1113.5" y="1291.7" width="9.8" height="9.8"/><rect x="1326.75" y="1337.9" width="9.8" height="9.8"/></g>
<text x="1203.7" y="1054.5" text-anchor="middle" class="tt">Group 6</text>
<text x="937.8" y="1378.6" text-anchor="end" class="tk">0</text>
<text x="937.8" y="1282.73" text-anchor="end" class="tk">2000</text>
<text x="937.8" y="1186.87" text-anchor="end" class="tk">4000</text>
<text x="937.8" y="1091" text-anchor="end" class="tk">6000</text>
<text x="1471.1" y="1378.2" class="tkg">0</text>
<text x="1471.1" y="1282.33" class="tkg">1000</text>
<text x="1471.1" y="1186.47" class="tkg">2000</text>
<text x="1471.1" y="1090.6" class="tkg">3000</text>
<text x="947.3" y="1400" text-anchor="middle" class="tk">0</text>
<text x="989.95" y="1400" text-anchor="middle" class="tk">28</text>
<text x="1032.6" y="1400" text-anchor="middle" class="tk">56</text>
<text x="1075.25" y="1400" text-anchor="middle" class="tk">84</text>
<text x="1117.9" y="1400" text-anchor="middle" class="tk">112</text>
<text x="1160.55" y="1400" text-anchor="middle" class="tk">140</text>
<text x="1203.2" y="1400" text-anchor="middle" class="tk">168</text>
<text x="1245.85" y="1400" text-anchor="middle" class="tk">196</text>
<text x="1288.5" y="1400" text-anchor="middle" class="tk">224</text>
<text x="1331.15" y="1400" text-anchor="middle" class="tk">252</text>
<text x="1373.8" y="1400" text-anchor="middle" class="tk">280</text>
<text x="1416.45" y="1400" text-anchor="middle" class="tk">308</text>
<text x="1459.1" y="1400" text-anchor="middle" class="tk">336</text>
<text transform="translate(883.9 1225) rotate(-90)" text-anchor="middle" class="yt">ME-TRAP-specific SFC/10<tspan dy="-9" font-size="17">6</tspan><tspan dy="9"> PBMC</tspan></text>
<text transform="translate(1558.6 1227.4) rotate(90)" text-anchor="middle" class="yt2">ELISA Units</text>
<text x="1468.2" y="1436.8" text-anchor="end" class="xt">Time Point / Days</text>
<text transform="translate(954.1 1428.6) rotate(-90)" text-anchor="end" class="vac">ChAd63</text>
<text transform="translate(996.75 1428.6) rotate(-90)" text-anchor="end" class="vac">MVA</text>
<text transform="translate(1039.4 1428.6) rotate(-90)" text-anchor="end" class="vac">ChAd63</text>
<text transform="translate(1082.05 1428.6) rotate(-90)" text-anchor="end" class="vac">MVA</text>
<path d="M1525.4 1101.9h25" stroke="#000" stroke-width="2"/>
<rect x="1533" y="1097" width="9.8" height="9.8"/>
<path d="M1525.4 1133.9h25" stroke="#9b9b9b" stroke-width="1.8"/>
<circle cx="1537.9" cy="1133.9" r="4.7" fill="#9b9b9b"/>
<text x="1564.6" y="1109.7" class="lg">ELISpot</text>
<text x="1564.6" y="1141.5" class="lg">ELISA</text>
</g>
<g>
<line x1="180.1" y1="1601.9" x2="180.1" y2="1880.4" stroke="#000" stroke-width="2.3" stroke-linecap="round" stroke-dasharray="0 7.07"/>
<line x1="265.4" y1="1601.9" x2="265.4" y2="1880.4" stroke="#000" stroke-width="2.3" stroke-linecap="round" stroke-dasharray="0 7.07"/>
<line x1="350.7" y1="1601.9" x2="350.7" y2="1880.4" stroke="#000" stroke-width="2.3" stroke-linecap="round" stroke-dasharray="0 7.07"/>
<line x1="95.8" y1="1601.9" x2="95.8" y2="1880.4" stroke="#000" stroke-width="2.3" stroke-linecap="round" stroke-dasharray="0 7.07"/>
<g stroke="#000" stroke-width="2" fill="none">
<path d="M88.1 1594.3H613.4"/>
<path d="M88.1 1881.4H613.4"/>
<path d="M94.8 1593.3V1882.4"/>
<path d="M606.6 1593.3V1887.9"/>
<path d="M88.1 1785.7H94.8"/>
<path d="M606.6 1785.7H613.4"/>
<path d="M88.1 1690H94.8"/>
<path d="M606.6 1690H613.4"/>
<path d="M94.8 1881.4V1887.9"/>
<path d="M137.45 1881.4V1887.9"/>
<path d="M180.1 1881.4V1887.9"/>
<path d="M222.75 1881.4V1887.9"/>
<path d="M265.4 1881.4V1887.9"/>
<path d="M308.05 1881.4V1887.9"/>
<path d="M350.7 1881.4V1887.9"/>
<path d="M393.35 1881.4V1887.9"/>
<path d="M436 1881.4V1887.9"/>
<path d="M478.65 1881.4V1887.9"/>
<path d="M521.3 1881.4V1887.9"/>
<path d="M563.95 1881.4V1887.9"/>
<path d="M606.6 1881.4V1887.9"/>
</g>
<g stroke="#9b9b9b" stroke-width="2.8" fill="none"><line x1="180.1" y1="1881.4" x2="180.1" y2="1867.4"/><line x1="175.85" y1="1867.4" x2="184.35" y2="1867.4"/><line x1="190.76" y1="1826.7" x2="190.76" y2="1774.1"/><line x1="186.51" y1="1774.1" x2="195.01" y2="1774.1"/><line x1="190.76" y1="1826.7" x2="190.76" y2="1881.4"/><line x1="222.75" y1="1837.8" x2="222.75" y2="1824.1"/><line x1="218.5" y1="1824.1" x2="227" y2="1824.1"/><line x1="222.75" y1="1837.8" x2="222.75" y2="1859.7"/><line x1="218.5" y1="1859.7" x2="227" y2="1859.7"/><line x1="265.4" y1="1864.3" x2="265.4" y2="1841.4"/><line x1="261.15" y1="1841.4" x2="269.65" y2="1841.4"/><line x1="265.4" y1="1864.3" x2="265.4" y2="1881.4"/><line x1="308.05" y1="1856.4" x2="308.05" y2="1842.7"/><line x1="303.8" y1="1842.7" x2="312.3" y2="1842.7"/><line x1="308.05" y1="1856.4" x2="308.05" y2="1881.4"/><line x1="350.7" y1="1863.9" x2="350.7" y2="1842.8"/><line x1="346.45" y1="1842.8" x2="354.95" y2="1842.8"/><line x1="350.7" y1="1863.9" x2="350.7" y2="1881.4"/><line x1="393.35" y1="1827.9" x2="393.35" y2="1809.4"/><line x1="389.1" y1="1809.4" x2="397.6" y2="1809.4"/></g>
<polyline fill="none" stroke="#9b9b9b" stroke-width="2.0" stroke-linejoin="round" points="94.8,1881.4 137.45,1881.4 180.1,1881.4 190.76,1826.7 222.75,1837.8 265.4,1864.3 308.05,1856.4 350.7,1863.9 393.35,1827.9 606.6,1872.7"/>
<g fill="#9b9b9b"><circle cx="94.8" cy="1881.4" r="4.6"/><circle cx="137.45" cy="1881.4" r="4.6"/><circle cx="180.1" cy="1881.4" r="4.6"/><circle cx="190.76" cy="1826.7" r="4.6"/><circle cx="222.75" cy="1837.8" r="4.6"/><circle cx="265.4" cy="1864.3" r="4.6"/><circle cx="308.05" cy="1856.4" r="4.6"/><circle cx="350.7" cy="1863.9" r="4.6"/><circle cx="393.35" cy="1827.9" r="4.6"/><circle cx="606.6" cy="1872.7" r="4.6"/></g>
<g stroke="#000" stroke-width="2.0" fill="none"><line x1="116.12" y1="1869.6" x2="116.12" y2="1846.6"/><line x1="111.72" y1="1846.6" x2="120.53" y2="1846.6"/><line x1="116.12" y1="1869.6" x2="116.12" y2="1876.4"/><line x1="111.72" y1="1876.4" x2="120.53" y2="1876.4"/><line x1="190.76" y1="1841.6" x2="190.76" y2="1799.4"/><line x1="186.36" y1="1799.4" x2="195.16" y2="1799.4"/><line x1="190.76" y1="1841.6" x2="190.76" y2="1860"/><line x1="186.36" y1="1860" x2="195.16" y2="1860"/><line x1="222.75" y1="1869.6" x2="222.75" y2="1856.7"/><line x1="218.35" y1="1856.7" x2="227.15" y2="1856.7"/><line x1="222.75" y1="1869.6" x2="222.75" y2="1874.9"/><line x1="218.35" y1="1874.9" x2="227.15" y2="1874.9"/><line x1="265.4" y1="1860.8" x2="265.4" y2="1870.5"/><line x1="261" y1="1870.5" x2="269.8" y2="1870.5"/><line x1="308.05" y1="1871.6" x2="308.05" y2="1859.3"/><line x1="303.65" y1="1859.3" x2="312.45" y2="1859.3"/><line x1="350.7" y1="1868.7" x2="350.7" y2="1861.1"/><line x1="346.3" y1="1861.1" x2="355.1" y2="1861.1"/><line x1="361.36" y1="1858.5" x2="361.36" y2="1838.2"/><line x1="356.96" y1="1838.2" x2="365.76" y2="1838.2"/><line x1="361.36" y1="1858.5" x2="361.36" y2="1870.5"/><line x1="356.96" y1="1870.5" x2="365.76" y2="1870.5"/><line x1="393.35" y1="1848.2" x2="393.35" y2="1836"/><line x1="388.95" y1="1836" x2="397.75" y2="1836"/><line x1="393.35" y1="1848.2" x2="393.35" y2="1859.1"/><line x1="388.95" y1="1859.1" x2="397.75" y2="1859.1"/><line x1="606.6" y1="1868.7" x2="606.6" y2="1844.3"/><line x1="602.2" y1="1844.3" x2="611" y2="1844.3"/></g>
<polyline fill="none" stroke="#000" stroke-width="2.5" stroke-linejoin="round" points="94.8,1879.7 116.12,1869.6 137.45,1877.2 180.1,1878.7 190.76,1841.6 222.75,1869.6 265.4,1860.8 286.72,1868.4 308.05,1871.6 350.7,1868.7 361.36,1858.5 393.35,1848.2 606.6,1868.7"/>
<g fill="#000"><rect x="89.9" y="1874.8" width="9.8" height="9.8"/><rect x="111.22" y="1864.7" width="9.8" height="9.8"/><rect x="132.55" y="1872.3" width="9.8" height="9.8"/><rect x="175.2" y="1873.8" width="9.8" height="9.8"/><rect x="185.86" y="1836.7" width="9.8" height="9.8"/><rect x="217.85" y="1864.7" width="9.8" height="9.8"/><rect x="260.5" y="1855.9" width="9.8" height="9.8"/><rect x="281.82" y="1863.5" width="9.8" height="9.8"/><rect x="303.15" y="1866.7" width="9.8" height="9.8"/><rect x="345.8" y="1863.8" width="9.8" height="9.8"/><rect x="356.46" y="1853.6" width="9.8" height="9.8"/><rect x="388.45" y="1843.3" width="9.8" height="9.8"/><rect x="601.7" y="1863.8" width="9.8" height="9.8"/></g>
<text x="350.7" y="1565" text-anchor="middle" class="tt">Group 7</text>
<text x="84.8" y="1888.4" text-anchor="end" class="tk">0</text>
<text x="84.8" y="1792.7" text-anchor="end" class="tk">2000</text>
<text x="84.8" y="1697" text-anchor="end" class="tk">4000</text>
<text x="84.8" y="1601.3" text-anchor="end" class="tk">6000</text>
<text x="618.1" y="1888" class="tkg">0</text>
<text x="618.1" y="1792.3" class="tkg">1000</text>
<text x="618.1" y="1696.6" class="tkg">2000</text>
<text x="618.1" y="1600.9" class="tkg">3000</text>
<text x="94.3" y="1909.8" text-anchor="middle" class="tk">0</text>
<text x="136.95" y="1909.8" text-anchor="middle" class="tk">28</text>
<text x="179.6" y="1909.8" text-anchor="middle" class="tk">56</text>
<text x="222.25" y="1909.8" text-anchor="middle" class="tk">84</text>
<text x="264.9" y="1909.8" text-anchor="middle" class="tk">112</text>
<text x="307.55" y="1909.8" text-anchor="middle" class="tk">140</text>
<text x="350.2" y="1909.8" text-anchor="middle" class="tk">168</text>
<text x="392.85" y="1909.8" text-anchor="middle" class="tk">196</text>
<text x="435.5" y="1909.8" text-anchor="middle" class="tk">224</text>
<text x="478.15" y="1909.8" text-anchor="middle" class="tk">252</text>
<text x="520.8" y="1909.8" text-anchor="middle" class="tk">280</text>
<text x="563.45" y="1909.8" text-anchor="middle" class="tk">308</text>
<text x="606.1" y="1909.8" text-anchor="middle" class="tk">336</text>
<text transform="translate(23.9 1735.05) rotate(-90)" text-anchor="middle" class="yt">ME-TRAP-specific SFC/10<tspan dy="-9" font-size="17">6</tspan><tspan dy="9"> PBMC</tspan></text>
<text transform="translate(705.6 1737.45) rotate(90)" text-anchor="middle" class="yt2">ELISA Units</text>
<text x="610.6" y="1942.7" text-anchor="end" class="xt">Time Point / Days</text>
<text transform="translate(101.1 1936.1) rotate(-90)" text-anchor="end" class="vac">ChAd63</text>
<text transform="translate(186.4 1936.1) rotate(-90)" text-anchor="end" class="vac">MVA</text>
<text transform="translate(271.7 1936.1) rotate(-90)" text-anchor="end" class="vac">ChAd63</text>
<text transform="translate(357 1936.1) rotate(-90)" text-anchor="end" class="vac">MVA</text>
<path d="M672.4 1612.2h25" stroke="#000" stroke-width="2"/>
<rect x="680" y="1607.3" width="9.8" height="9.8"/>
<path d="M672.4 1644.2h25" stroke="#9b9b9b" stroke-width="1.8"/>
<circle cx="684.9" cy="1644.2" r="4.7" fill="#9b9b9b"/>
<text x="711.6" y="1620" class="lg">ELISpot</text>
<text x="711.6" y="1651.8" class="lg">ELISA</text>
</g>
</svg>
</body></html>
